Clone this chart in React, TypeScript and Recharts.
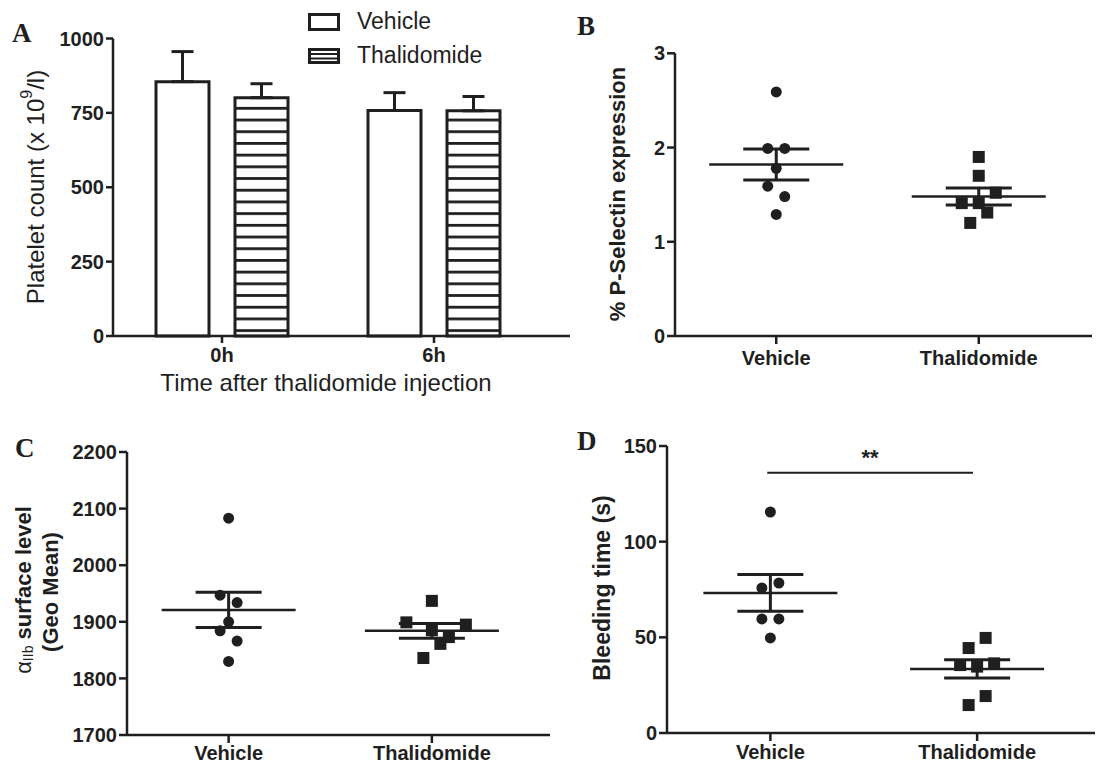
import React from "react";
import {
  BarChart,
  Bar,
  XAxis,
  YAxis,
  ErrorBar,
  ScatterChart,
  Scatter,
  ReferenceLine,
} from "recharts";

const INK = "#1f1f1f";
const SANS = "'Liberation Sans', Arial, sans-serif";
const SERIF = "'Liberation Serif', 'Times New Roman', serif";

// shared categories
const groups = ["Vehicle", "Thalidomide"];

// A - platelet count (x 10^9/l), mean + upper error
const timePoints = ["0h", "6h"];
const vehicleCount = [855, 758];
const vehicleCountErr = [101, 60];
const thalCount = [801, 757];
const thalCountErr = [47, 48];
const countTicks = [0, 250, 500, 750, 1000];

// B - % P-Selectin expression
const pselVehicle = [2.59, 1.99, 1.99, 1.78, 1.59, 1.48, 1.29];
const pselThal = [1.9, 1.7, 1.52, 1.41, 1.41, 1.31, 1.2];
const pselMean = [1.82, 1.48];
const pselSem = [0.165, 0.09];
const pselTicks = [0, 1, 2, 3];

// C - alpha IIb surface level (geo mean)
const gpVehicle = [2083, 1947, 1934, 1900, 1884, 1866, 1830];
const gpThal = [1937, 1899, 1895, 1885, 1873, 1861, 1836];
const gpMean = [1921, 1884];
const gpSem = [31, 13];
const gpTicks = [1700, 1800, 1900, 2000, 2100, 2200];

// D - bleeding time (s)
const bleedVehicle = [115.5, 78.4, 75.8, 59.6, 59.6, 49.7];
const bleedThal = [49.7, 44.4, 35.5, 34.7, 36.4, 19.3, 14.6];
const bleedMean = [73.2, 33.5];
const bleedSem = [9.6, 4.75];
const bleedTicks = [0, 50, 100, 150];
const bleedSigY = 136;

// side-by-side spreading of overlapping points (GraphPad style), one slot per point
const slots = {
  pselVehicle: [0, -1, 1, 0, -1, 1, 0],
  pselThal: [0, 0, 2, -2, 0, 1, -1],
  gpVehicle: [0, -1, 1, 0, -1, 1, 0],
  gpThal: [0, -3, 4, 0, 2, 1, -1],
  bleedVehicle: [0, 1, -1, -1, 1, 0],
  bleedThal: [1, -1, -2, 0, 2, 1, -1],
};
const SLOT_PX = 8.5;

const platelet = timePoints.map((t, i) => ({
  time: t,
  vehicle: vehicleCount[i],
  vehicleErr: [0, vehicleCountErr[i]],
  thal: thalCount[i],
  thalErr: [0, thalCountErr[i]],
}));

const points = (vals: number[], s: number[], g: number) =>
  vals.map((v, i) => ({ x: g + 0.5, y: v, slot: s[i] }));
const means = (m: number[], e: number[]) =>
  m.map((v, i) => ({ x: i + 0.5, y: v, sem: e[i] }));

const tickStyle = { fontSize: 20, fontWeight: 700, fill: INK, fontFamily: SANS };
const lineStyle = { stroke: INK, strokeWidth: 2.5 };

const circleShape = (p: any) => (
  <circle cx={p.cx + (p.payload?.slot ?? 0) * SLOT_PX} cy={p.cy} r={5.5} fill={INK} />
);
const squareShape = (p: any) => (
  <rect x={p.cx + (p.payload?.slot ?? 0) * SLOT_PX - 6} y={p.cy - 6} width={12} height={12} fill={INK} />
);
const meanShape = (p: any) => (
  <line x1={p.cx - 67} x2={p.cx + 67} y1={p.cy} y2={p.cy} stroke={INK} strokeWidth={2.5} />
);

const vText = (cx: number, cy: number, size: number, weight: number, body: React.ReactNode) => (
  <text
    x={cx}
    y={cy}
    transform={`rotate(-90 ${cx} ${cy})`}
    textAnchor="middle"
    dominantBaseline="central"
    fontSize={size}
    fontWeight={weight}
    fill={INK}
    fontFamily={SANS}
  >
    {body}
  </text>
);

type DotPlotProps = {
  left: number;
  top: number;
  width: number;
  height: number;
  marginTop: number;
  marginRight: number;
  yAxisWidth: number;
  xAxisHeight: number;
  padRight: number;
  xTickMargin: number;
  domain: [number, number];
  ticks: number[];
  vehicle: any[];
  thal: any[];
  meanRows: any[];
  yLabel: () => React.ReactNode;
  children?: React.ReactNode;
};

const DotPlot = (p: DotPlotProps) => (
  <div style={{ position: "absolute", left: p.left, top: p.top }}>
    <ScatterChart
      width={p.width}
      height={p.height}
      margin={{ top: p.marginTop, right: p.marginRight, left: 0, bottom: 0 }}
    >
      <XAxis
        type="number"
        dataKey="x"
        domain={[0, 2]}
        allowDataOverflow
        ticks={[0.5, 1.5]}
        interval={0}
        tickFormatter={(v: number) => groups[Math.floor(v)]}
        height={p.xAxisHeight}
        padding={{ left: 0, right: p.padRight }}
        tick={tickStyle}
        tickSize={8}
        tickMargin={p.xTickMargin}
        axisLine={lineStyle}
        tickLine={lineStyle}
      />
      <YAxis
        type="number"
        dataKey="y"
        domain={p.domain}
        ticks={p.ticks}
        interval={0}
        width={p.yAxisWidth}
        tick={tickStyle}
        tickSize={8}
        tickMargin={2}
        axisLine={lineStyle}
        tickLine={lineStyle}
        label={p.yLabel}
      />
      <Scatter data={p.vehicle} shape={circleShape} isAnimationActive={false} />
      <Scatter data={p.thal} shape={squareShape} isAnimationActive={false} />
      <Scatter data={p.meanRows} shape={meanShape} isAnimationActive={false}>
        <ErrorBar dataKey="sem" direction="y" width={33} stroke={INK} strokeWidth={3} isAnimationActive={false} />
      </Scatter>
      {p.children}
    </ScatterChart>
  </div>
);

const PlateletChart = () => (
  <div style={{ position: "absolute", left: 0, top: 0 }}>
    <BarChart
      width={580}
      height={400}
      data={platelet}
      margin={{ top: 38.5, right: 10, left: 0, bottom: 0 }}
      barSize={53}
      barGap={26}
    >
      <defs>
        <pattern id="hstripes" patternUnits="userSpaceOnUse" width={8} height={11.7} y={1.6}>
          <rect width={8} height={11.7} fill="#fff" />
          <rect width={8} height={2.8} fill={INK} />
        </pattern>
      </defs>
      <XAxis
        dataKey="time"
        height={64}
        padding={{ left: 3, right: 30 }}
        tick={tickStyle}
        tickSize={7}
        tickMargin={5}
        axisLine={lineStyle}
        tickLine={lineStyle}
        label={() => (
          <text x={326} y={391} textAnchor="middle" fontSize={24} fill={INK} fontFamily={SANS}>
            Time after thalidomide injection
          </text>
        )}
      />
      <YAxis
        domain={[0, 1000]}
        ticks={countTicks}
        interval={0}
        width={113}
        tick={tickStyle}
        tickSize={7}
        tickMargin={2}
        axisLine={lineStyle}
        tickLine={lineStyle}
        label={() =>
          vText(
            35,
            187,
            24,
            400,
            <>
              Platelet count (x 10
              <tspan fontSize={16} dy={-9}>9</tspan>
              <tspan dy={9}>/l)</tspan>
            </>
          )
        }
      />
      <Bar dataKey="vehicle" fill="#fff" stroke={INK} strokeWidth={3} isAnimationActive={false}>
        <ErrorBar dataKey="vehicleErr" direction="y" width={11} stroke={INK} strokeWidth={3} isAnimationActive={false} />
      </Bar>
      <Bar dataKey="thal" fill="url(#hstripes)" stroke={INK} strokeWidth={3} isAnimationActive={false}>
        <ErrorBar dataKey="thalErr" direction="y" width={11} stroke={INK} strokeWidth={3} isAnimationActive={false} />
      </Bar>
    </BarChart>
  </div>
);

const Overlay = () => (
  <svg
    width={1099}
    height={771}
    style={{ position: "absolute", left: 0, top: 0, pointerEvents: "none" }}
  >
    <g fontFamily={SERIF} fontWeight={700} fontSize={27} fill={INK}>
      <text x={12} y={42}>A</text>
      <text x={577} y={35}>B</text>
      <text x={15} y={457}>C</text>
      <text x={577} y={450}>D</text>
    </g>
    {/* legend of panel A */}
    <rect x={309.5} y={14.5} width={29} height={15} fill="#fff" stroke={INK} strokeWidth={3} />
    <rect x={309.5} y={49.5} width={29} height={13} fill="#fff" stroke={INK} strokeWidth={3} />
    <line x1={309.5} x2={338.5} y1={54} y2={54} stroke={INK} strokeWidth={2} />
    <line x1={309.5} x2={338.5} y1={58.5} y2={58.5} stroke={INK} strokeWidth={2} />
    <g fontFamily={SANS} fontSize={23} fill={INK}>
      <text x={357} y={29}>Vehicle</text>
      <text x={357} y={63}>Thalidomide</text>
    </g>
  </svg>
);

export default function App() {
  return (
    <div
      style={{
        position: "absolute",
        left: 0,
        top: 0,
        width: 1099,
        height: 771,
        background: "#fff",
        fontFamily: SANS,
      }}
    >
      <PlateletChart />
      <DotPlot
        left={560}
        top={0}
        width={539}
        height={400}
        marginTop={53.3}
        marginRight={7}
        yAxisWidth={115}
        xAxisHeight={64}
        padRight={12}
        xTickMargin={7}
        domain={[0, 3]}
        ticks={pselTicks}
        vehicle={points(pselVehicle, slots.pselVehicle, 0)}
        thal={points(pselThal, slots.pselThal, 1)}
        meanRows={means(pselMean, pselSem)}
        yLabel={() => vText(57.5, 194, 22, 700, "% P-Selectin expression")}
      />
      <DotPlot
        left={0}
        top={400}
        width={560}
        height={371}
        marginTop={52}
        marginRight={10}
        yAxisWidth={127}
        xAxisHeight={36}
        padRight={16.5}
        xTickMargin={3}
        domain={[1700, 2200]}
        ticks={gpTicks}
        vehicle={points(gpVehicle, slots.gpVehicle, 0)}
        thal={points(gpThal, slots.gpThal, 1)}
        meanRows={means(gpMean, gpSem)}
        yLabel={() => (
          <g>
            {vText(
              23,
              190,
              22,
              700,
              <>
                <tspan fontWeight={400}>α</tspan>
                <tspan fontWeight={400} fontSize={14} dy={5}>IIb</tspan>
                <tspan dy={-5}> surface level</tspan>
              </>
            )}
            {vText(50, 192, 22, 700, "(Geo Mean)")}
          </g>
        )}
      />
      <DotPlot
        left={560}
        top={400}
        width={539}
        height={371}
        marginTop={46}
        marginRight={4}
        yAxisWidth={107}
        xAxisHeight={38}
        padRight={14.5}
        xTickMargin={4}
        domain={[0, 150]}
        ticks={bleedTicks}
        vehicle={points(bleedVehicle, slots.bleedVehicle, 0)}
        thal={points(bleedThal, slots.bleedThal, 1)}
        meanRows={means(bleedMean, bleedSem)}
        yLabel={() => vText(42, 188, 23, 700, "Bleeding time (s)")}
      >
        <ReferenceLine
          segment={[
            { x: 0.485, y: bleedSigY },
            { x: 1.48, y: bleedSigY },
          ]}
          stroke={INK}
          strokeWidth={2}
          label={{ value: "**", position: "top", offset: 8, fontSize: 22, fontWeight: 700, fill: INK }}
        />
      </DotPlot>
      <Overlay />
    </div>
  );
}
